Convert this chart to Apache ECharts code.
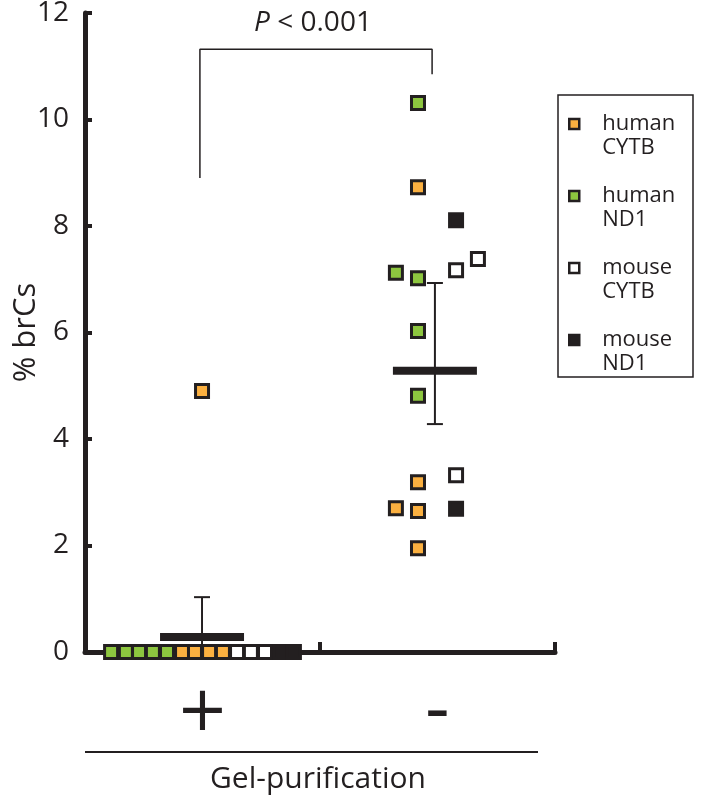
<!DOCTYPE html>
<html>
<head>
<meta charset="utf-8">
<script src="https://cdn.jsdelivr.net/npm/echarts@6/dist/echarts.min.js"></script>
<style>
html,body{margin:0;padding:0;background:#fff;}
#chart{width:702px;height:801px;}
</style>
</head>
<body>
<div id="chart"></div>
<script>
// ---- data ----
const categories = ['+', '-'];
const yMin = 0, yMax = 12, yInterval = 2;

// [x position within the 0..2 group scale, % brCs]
const humanCYTB = [[0.413,0],[0.468,0],[0.528,0],[0.587,0],[0.498,4.9],
                   [1.417,8.73],[1.417,3.19],[1.323,2.70],[1.417,2.65],[1.417,1.95]];
const humanND1  = [[0.111,0],[0.174,0],[0.230,0],[0.289,0],[0.349,0],
                   [1.417,10.31],[1.323,7.12],[1.417,7.02],[1.417,6.03],[1.417,4.81]];
const mouseCYTB = [[0.647,0],[0.706,0],[0.766,0],
                   [1.672,7.38],[1.579,7.17],[1.579,3.32]];
const mouseND1  = [[0.830,0],[0.889,0],
                   [1.579,8.11],[1.579,2.69]];

const groupX    = [0.498, 1.489];
const groupMean = [0.28, 5.28];
const groupLow  = [-0.47, 4.28];
const groupHigh = [1.03, 6.93];

const bracketX = [0.489, 0.489, 1.477, 1.477];
const bracketY = [8.9, 11.32, 11.32, 10.85];
const pText = 'P < 0.001';
const xTitle = 'Gel-purification';
const yTitle = '% brCs';

// ---- styling ----
const INK = '#231F20';
const ORANGE = '#FBB040';
const GREEN = '#8DC63F';
const FONT = 'Open Sans';

const chart = echarts.init(document.getElementById('chart'), null, {renderer: 'canvas'});

function scatter(name, data, color) {
  return {
    name: name, type: 'scatter', xAxisIndex: 1, data: data,
    symbol: 'rect', symbolSize: 13, z: 4,
    itemStyle: {color: color, borderColor: INK, borderWidth: 3, opacity: 1},
    emphasis: {disabled: true}
  };
}

const statsData = groupX.map((x, i) => [x, groupMean[i], groupLow[i], groupHigh[i]]);

const option = {
  animation: false,
  grid: {left: 85, right: 147, top: 13, bottom: 149, containLabel: false, outerBoundsMode: 'none'},
  xAxis: [
    {
      type: 'category', data: categories, boundaryGap: true,
      axisLine: {show: true, lineStyle: {color: INK, width: 5}},
      axisTick: {show: true, inside: true, length: 10, interval: 0, lineStyle: {color: INK, width: 4}},
      axisLabel: {
        margin: 31, interval: 0,
        formatter: v => v === '+' ? '{p|+}' : '{m|-}',
        rich: {
          p: {fontFamily: 'DejaVu Sans', fontSize: 62, lineHeight: 62, color: INK},
          m: {fontFamily: 'DejaVu Sans', fontSize: 70, lineHeight: 62, color: INK}
        }
      },
      splitLine: {show: false}
    },
    {type: 'value', min: 0, max: 2, show: false}
  ],
  yAxis: {
    type: 'value', min: yMin, max: yMax, interval: yInterval,
    axisLine: {show: true, lineStyle: {color: INK, width: 5}},
    axisTick: {show: true, inside: true, length: 7, lineStyle: {color: INK, width: 4}},
    axisLabel: {fontFamily: FONT, fontSize: 28, color: INK, margin: 16},
    splitLine: {show: false},
    name: yTitle, nameLocation: 'middle', nameGap: 43, nameMoveOverlap: false,
    nameTextStyle: {fontFamily: FONT, fontSize: 31, color: INK}
  },
  legend: {
    orient: 'vertical', left: 568, top: 88, padding: 0, itemGap: 0,
    itemWidth: 10, itemHeight: 10,
    data: ['human CYTB', 'human ND1', 'mouse CYTB', 'mouse ND1'],
    formatter: n => ' \n' + n.replace(' ', '\n'),
    itemStyle: {borderWidth: 2.5, borderColor: INK},
    textStyle: {fontFamily: FONT, fontSize: 22, lineHeight: 24, color: INK, padding: [0, 0, 0, 18]},
    selectedMode: false
  },
  graphic: [
    {type: 'rect', shape: {x: 558, y: 95, width: 135, height: 282}, style: {fill: 'none', stroke: INK, lineWidth: 1.5}, z: 1},
    {type: 'line', shape: {x1: 85, y1: 752, x2: 538, y2: 752}, style: {stroke: INK, lineWidth: 2}},
    {type: 'text', x: 318, y: 779, style: {text: xTitle, fontFamily: FONT, fontSize: 30, fill: INK, align: 'center', verticalAlign: 'middle'}},
    {type: 'text', x: 313, y: 23, style: {
      text: '{i|P}' + pText.slice(1), fontFamily: FONT, fontSize: 28, fill: INK, align: 'center', verticalAlign: 'middle',
      rich: {i: {fontStyle: 'italic', fontFamily: FONT, fontSize: 28, fill: INK}}
    }}
  ],
  series: [
    {
      name: 'bracket', type: 'line', xAxisIndex: 1,
      data: bracketX.map((x, i) => [x, bracketY[i]]),
      symbol: 'none', lineStyle: {color: INK, width: 1.5}, z: 2, silent: true
    },
    {
      name: 'stats', type: 'custom', xAxisIndex: 1, data: statsData, clip: true, z: 3, silent: true,
      renderItem: function (params, api) {
        const x = api.value(0);
        const m = api.coord([x, api.value(1)]);
        const lo = api.coord([x, api.value(2)]);
        const hi = api.coord([x, api.value(3)]);
        const ls = {stroke: INK, lineWidth: 2};
        return {
          type: 'group',
          children: [
            {type: 'line', shape: {x1: m[0], y1: lo[1], x2: m[0], y2: hi[1]}, style: ls},
            {type: 'line', shape: {x1: m[0] - 8, y1: hi[1], x2: m[0] + 8, y2: hi[1]}, style: ls},
            {type: 'line', shape: {x1: m[0] - 8, y1: lo[1], x2: m[0] + 8, y2: lo[1]}, style: ls},
            {type: 'rect', shape: {x: m[0] - 42, y: m[1] - 4, width: 84, height: 8}, style: {fill: INK}}
          ]
        };
      }
    },
    scatter('human CYTB', humanCYTB, ORANGE),
    scatter('human ND1', humanND1, GREEN),
    scatter('mouse CYTB', mouseCYTB, '#FFFFFF'),
    scatter('mouse ND1', mouseND1, INK)
  ]
};
chart.setOption(option);
</script>
</body>
</html>
